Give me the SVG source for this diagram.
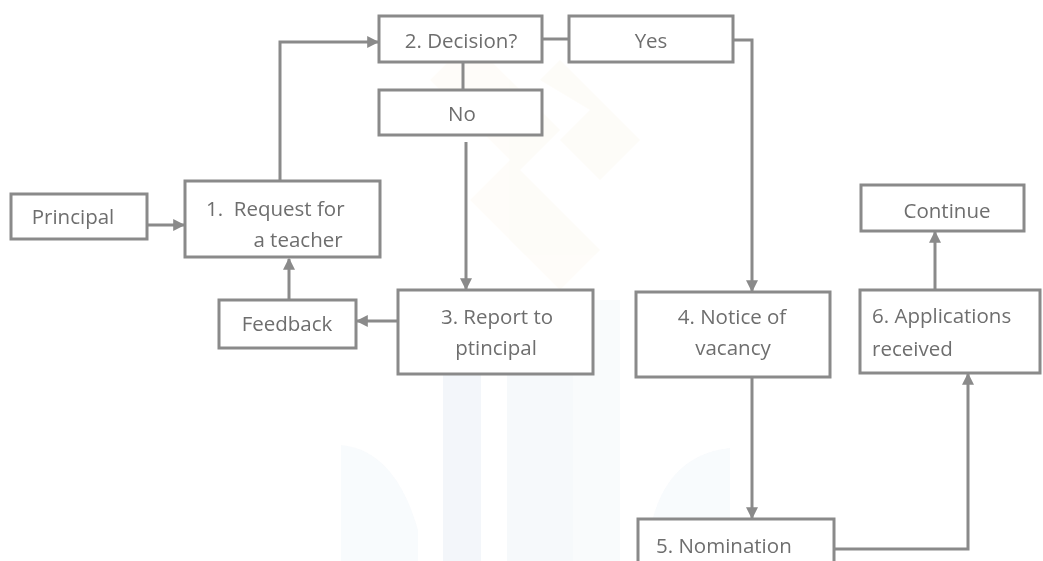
<svg xmlns="http://www.w3.org/2000/svg" width="1043" height="561" viewBox="0 0 1043 561">
  <defs>
    <style>
      .box { fill: #ffffff; stroke: #8a8a8a; stroke-width: 3; }
      .lbl { font-family: "Open Sans", Lato, "Liberation Sans", sans-serif; font-size: 20.5px; fill: #6e6e6e; }
      .mid { text-anchor: middle; }
      .wire { fill: none; stroke: #8a8a8a; stroke-width: 3; }
      .wm-blue { fill: #eef3f8; }
      .wm-gold { fill: #fbf6ea; }
    </style>
    <marker id="arrow" viewBox="0 0 10 10" refX="9" refY="5" markerWidth="4" markerHeight="4" orient="auto" markerUnits="strokeWidth">
      <path d="M0,0 L10,5 L0,10 Z" fill="#8a8a8a"/>
    </marker>
  </defs>

  <rect width="1043" height="561" fill="#ffffff"/>

  <!-- faint background emblem -->
  <g id="emblem">
    <g opacity="0.3">
      <path class="wm-gold" d="M470,40 L560,130 L520,170 L600,250 L560,290 L470,200 L510,160 L430,80 Z"/>
      <path class="wm-gold" d="M560,60 L640,140 L600,180 L560,140 L590,110 L540,80 Z"/>
    </g>
    <g opacity="0.7">
      <rect class="wm-blue" x="443" y="290" width="38" height="271"/>
      <rect class="wm-blue" x="507" y="290" width="66" height="271" opacity="0.7"/>
      <rect class="wm-blue" x="573" y="300" width="47" height="261" opacity="0.5"/>
      <path class="wm-blue" d="M341,561 L341,445 Q395,450 418,530 L418,561 Z" opacity="0.6"/>
      <path class="wm-blue" d="M650,561 L650,530 Q665,455 730,448 L730,561 Z" opacity="0.6"/>
    </g>
  </g>

  <g id="connectors">
    <!-- Principal to request -->
    <line class="wire" x1="147" y1="225" x2="184" y2="225" marker-end="url(#arrow)"/>
    <!-- request up to decision -->
    <polyline class="wire" points="280,181 280,42 378,42" marker-end="url(#arrow)"/>
    <!-- decision to yes -->
    <line class="wire" x1="542" y1="39" x2="569" y2="39"/>
    <!-- yes down to notice of vacancy -->
    <polyline class="wire" points="733,40 752,40 752,291" marker-end="url(#arrow)"/>
    <!-- decision to no -->
    <line class="wire" x1="463" y1="62" x2="463" y2="90"/>
    <!-- no down to report -->
    <line class="wire" x1="466" y1="142" x2="466" y2="289" marker-end="url(#arrow)"/>
    <!-- report to feedback -->
    <line class="wire" x1="398" y1="321" x2="357" y2="321" marker-end="url(#arrow)"/>
    <!-- feedback to request -->
    <line class="wire" x1="289" y1="300" x2="289" y2="259" marker-end="url(#arrow)"/>
    <!-- notice down to nomination -->
    <line class="wire" x1="752" y1="377" x2="752" y2="518" marker-end="url(#arrow)"/>
    <!-- nomination to applications -->
    <polyline class="wire" points="834,549 968,549 968,374" marker-end="url(#arrow)"/>
    <!-- applications to continue -->
    <line class="wire" x1="935" y1="289" x2="935" y2="232" marker-end="url(#arrow)"/>
  </g>

  <g id="principal">
    <rect class="box" x="11" y="194" width="136" height="45"/>
    <text class="lbl mid" x="73" y="224">Principal</text>
  </g>

  <g id="request">
    <rect class="box" x="185" y="181" width="195" height="76"/>
    <text class="lbl" x="206" y="216" xml:space="preserve">1.  Request for</text>
    <text class="lbl mid" x="298" y="247">a teacher</text>
  </g>

  <g id="decision">
    <rect class="box" x="379" y="16" width="163" height="46"/>
    <text class="lbl mid" x="461" y="48">2. Decision?</text>
  </g>

  <g id="yes">
    <rect class="box" x="569" y="16" width="164" height="46"/>
    <text class="lbl mid" x="651" y="48">Yes</text>
  </g>

  <g id="no">
    <rect class="box" x="379" y="90" width="163" height="45"/>
    <text class="lbl mid" x="462" y="121">No</text>
  </g>

  <g id="feedback">
    <rect class="box" x="219" y="300" width="137" height="48"/>
    <text class="lbl mid" x="287" y="331">Feedback</text>
  </g>

  <g id="report">
    <rect class="box" x="398" y="290" width="195" height="84"/>
    <text class="lbl mid" x="497" y="324">3. Report to</text>
    <text class="lbl mid" x="496" y="355">ptincipal</text>
  </g>

  <g id="notice">
    <rect class="box" x="636" y="292" width="194" height="85"/>
    <text class="lbl mid" x="732" y="324">4. Notice of</text>
    <text class="lbl mid" x="733" y="355">vacancy</text>
  </g>

  <g id="nomination">
    <rect class="box" x="638" y="519" width="196" height="60"/>
    <text class="lbl" x="656" y="553">5. Nomination</text>
  </g>

  <g id="applications">
    <rect class="box" x="860" y="290" width="180" height="83"/>
    <text class="lbl" x="872" y="323">6. Applications</text>
    <text class="lbl" x="872" y="356">received</text>
  </g>

  <g id="continue">
    <rect class="box" x="861" y="185" width="163" height="46"/>
    <text class="lbl mid" x="947" y="218">Continue</text>
  </g>
</svg>
